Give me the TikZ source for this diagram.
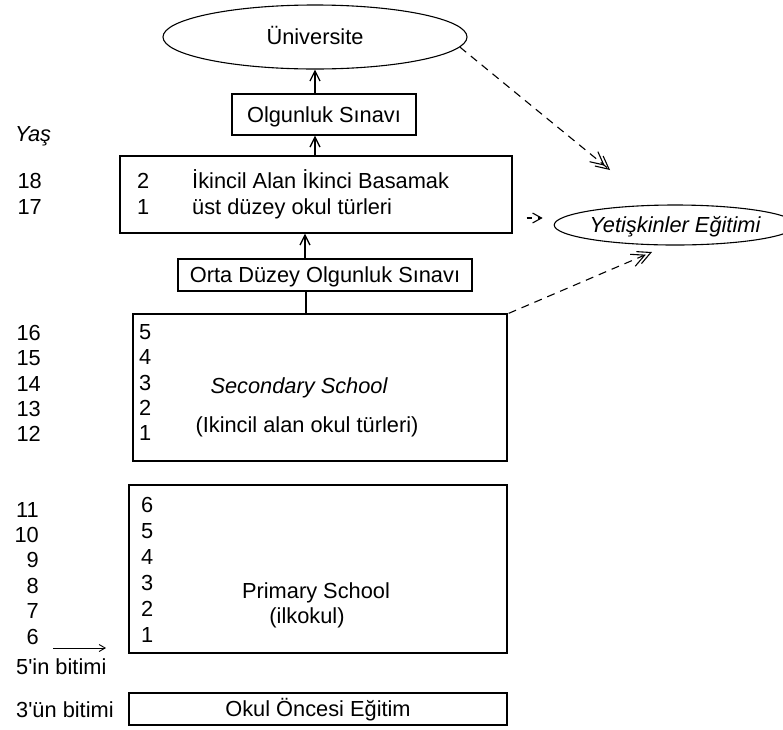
\documentclass[tikz,border=0pt]{standalone}
\usepackage{fontspec}
\setmainfont{Liberation Sans}
\usetikzlibrary{shapes.geometric,arrows.meta,calc}
\begin{document}
\begin{tikzpicture}[x=1pt,y=-1pt,
  every node/.style={font=\fontsize{21.8}{26}\selectfont},
  itx/.style={font=\fontsize{21.8}{26}\selectfont\itshape},
  box/.style={draw,line width=1.3pt,rectangle,inner sep=0pt},
  oval/.style={draw,line width=1.1pt,ellipse,inner sep=0pt},
  capt/.style={text height=15.6pt,text depth=0pt},
  txt/.style={inner sep=0pt},
  arr/.style={line width=1.1pt,-{Straight Barb[length=10pt,width=10pt,line width=1.3pt]}},
  darr/.style={line width=1.1pt,dash pattern=on 8pt off 6pt,
     -{Straight Barb[length=13pt,width=13pt,sep=-8pt]Straight Barb[length=13pt,width=13pt]}},
  sdarr/.style={line width=1.1pt,dash pattern=on 5pt off 6pt,
     -{Straight Barb[length=9pt,width=10pt]}},
  ]
\useasboundingbox (0,0) rectangle (783,729);

% shapes
\node[oval,minimum width=304,minimum height=64,capt] (uni) at (315,37) {Üniversite};
\node[box,minimum width=184,minimum height=41,capt] (olg) at (324,114.5) {Olgunluk Sınavı};
\node[box,minimum width=392,minimum height=77] (upper) at (316,194.5) {};
\node[box,minimum width=294,minimum height=32,capt] (orta) at (325,275) {Orta Düzey Olgunluk Sınavı};
\node[box,minimum width=374,minimum height=147] (sec) at (320,387.5) {};
\node[box,minimum width=378,minimum height=168] (prim) at (318,569) {};
\node[box,minimum width=378,minimum height=32,capt] (pre) at (318,709) {Okul Öncesi Eğitim};
\node[oval,minimum width=213,minimum height=40,capt,itx] (yet) at (675,225) {Yetişkinler Eğitimi};

% ages
\node[txt,anchor=base west,itx] (yas) at (15,141) {Yaş};
\node[txt,anchor=base east] (a18) at (42,188) {18};
\node[txt,anchor=base east] (a17) at (42,214) {17};
\node[txt,anchor=base east] (a16) at (41,340) {16};
\node[txt,anchor=base east] (a15) at (41,365) {15};
\node[txt,anchor=base east] (a14) at (41,391) {14};
\node[txt,anchor=base east] (a13) at (41,416) {13};
\node[txt,anchor=base east] (a12) at (41,441) {12};
\node[txt,anchor=base east] (a11) at (39,517) {11};
\node[txt,anchor=base east] (a10) at (39,542) {10};
\node[txt,anchor=base east] (a9) at (39,567) {9};
\node[txt,anchor=base east] (a8) at (39,593) {8};
\node[txt,anchor=base east] (a7) at (39,618) {7};
\node[txt,anchor=base east] (a6) at (39,644) {6};
\node[txt,anchor=base west] (b5) at (16,674) {5\textquotesingle in bitimi};
\node[txt,anchor=base west] (b3) at (16,717) {3\textquotesingle ün bitimi};

% upper box content
\node[txt,anchor=base west] (u2) at (137,188) {2};
\node[txt,anchor=base west] (u1) at (137,214) {1};
\node[txt,anchor=base west] (ut1) at (192,188) {İkincil Alan İkinci Basamak};
\node[txt,anchor=base west] (ut2) at (192,214) {üst düzey okul türleri};

% secondary content
\node[txt,anchor=base west] (s5) at (139,339) {5};
\node[txt,anchor=base west] (s4) at (139,364) {4};
\node[txt,anchor=base west] (s3) at (139,390) {3};
\node[txt,anchor=base west] (s2) at (139,415) {2};
\node[txt,anchor=base west] (s1) at (139,440) {1};
\node[txt,anchor=base,itx] (st1) at (299,393) {Secondary School};
\node[txt,anchor=base] (st2) at (307,432) {(Ikincil alan okul türleri)};

% primary content
\node[txt,anchor=base west] (p6) at (141,512) {6};
\node[txt,anchor=base west] (p5) at (141,538) {5};
\node[txt,anchor=base west] (p4) at (141,564) {4};
\node[txt,anchor=base west] (p3) at (141,590) {3};
\node[txt,anchor=base west] (p2) at (141,616) {2};
\node[txt,anchor=base west] (p1) at (141,642) {1};
\node[txt,anchor=base] (pt1) at (316,598) {Primary School};
\node[txt,anchor=base] (pt2) at (307,623) {(ilkokul)};

% connectors
\draw[arr] (uni.south |- olg.north) -- (uni.south);
\draw[arr] (uni.south |- upper.north) -- (uni.south |- olg.south);
\draw[arr] ([xshift=-20pt]orta.north) -- ([xshift=-20pt]orta.north |- upper.south);
\draw[line width=1.1pt] ([xshift=-14pt]sec.north) -- ([xshift=-14pt]sec.north |- orta.south);

\coordinate (d1) at (610,170);
\coordinate (d3) at (652,252);
\draw[darr] (uni.-4) -- (d1);
\draw[sdarr] ([xshift=14pt,yshift=-23.5pt]upper.east) -- ([xshift=-11pt,yshift=7pt]yet.west);
\draw[darr] ([xshift=1pt]sec.north east) -- (d3);

\coordinate (b5s) at (53,648);
\coordinate (b5e) at (106,648);
\draw[line width=0.9pt,-{Straight Barb[length=6pt,width=7pt]}] (b5s) -- (b5e);
\end{tikzpicture}
\end{document}
